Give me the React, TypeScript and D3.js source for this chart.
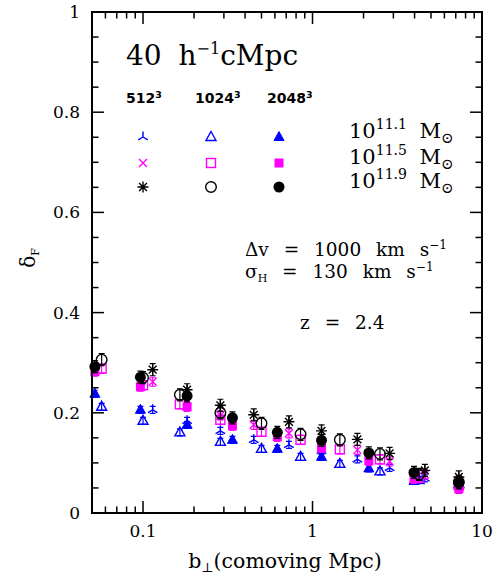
import React from 'react';
import * as d3 from 'd3';

// impact parameter bins (comoving Mpc) for each run
const b2048 = [0.052, 0.0965, 0.182, 0.337, 0.62, 1.13, 2.15, 3.97, 7.3];
const b1024 = [0.057, 0.1, 0.165, 0.286, 0.5, 0.85, 1.45, 2.5, 4.25, 7.3];
const b512 = [0.114, 0.182, 0.286, 0.45, 0.726, 1.13, 1.84, 2.85, 4.6, 7.3];

// delta_F per halo mass
const f2048m119 = [0.292, 0.271, 0.234, 0.19, 0.161, 0.145, 0.12, 0.081, 0.06];
const f2048m115 = [0.282, 0.252, 0.212, 0.174, 0.152, 0.13, 0.104, 0.068, 0.048];
const f2048m111 = [0.238, 0.206, 0.176, 0.146, 0.128, 0.112, 0.089, 0.064, 0.055];

const f1024m119 = [0.306, 0.27, 0.236, 0.2, 0.179, 0.157, 0.146, 0.118, 0.077, 0.062];
const f1024m115 = [0.288, 0.255, 0.217, 0.186, 0.162, 0.146, 0.127, 0.107, 0.07, 0.055];
const f1024m111 = [0.212, 0.184, 0.161, 0.142, 0.128, 0.112, 0.098, 0.083, 0.066, 0.058];

const f512m119 = [0.286, 0.246, 0.215, 0.196, 0.182, 0.164, 0.147, 0.119, 0.085, 0.072];
const f512m115 = [0.262, 0.224, 0.195, 0.176, 0.159, 0.14, 0.126, 0.103, 0.077, 0.065];
const f512m111 = [0.206, 0.184, 0.164, 0.146, 0.136, 0.124, 0.107, 0.09, 0.069, 0.06];

// rough error bar half-heights per mass
const errM111 = 0.007;
const errM115 = 0.009;
const errM119 = 0.012;

const resLabels = ['512', '1024', '2048'];
const massLabels = ['11.1', '11.5', '11.9'];
const yTickLabels = ['0', '0.2', '0.4', '0.6', '0.8', '1'];
const xTickLabels = ['0.1', '1', '10'];

type Kind = 'tripod' | 'cross' | 'star' | 'otri' | 'osq' | 'ocirc' | 'ftri' | 'fsq' | 'fcirc';

const BLUE = '#0000ff';
const MAG = '#ff00ff';
const BLK = '#000000';
const SERIF = '"DejaVu Serif", serif';

const series: { kind: Kind; color: string; b: number[]; f: number[]; err: number }[] = [
  { kind: 'tripod', color: BLUE, b: b512, f: f512m111, err: errM111 },
  { kind: 'otri', color: BLUE, b: b1024, f: f1024m111, err: errM111 },
  { kind: 'ftri', color: BLUE, b: b2048, f: f2048m111, err: errM111 },
  { kind: 'cross', color: MAG, b: b512, f: f512m115, err: errM115 },
  { kind: 'osq', color: MAG, b: b1024, f: f1024m115, err: errM115 },
  { kind: 'fsq', color: MAG, b: b2048, f: f2048m115, err: errM115 },
  { kind: 'star', color: BLK, b: b512, f: f512m119, err: errM119 },
  { kind: 'ocirc', color: BLK, b: b1024, f: f1024m119, err: errM119 },
  { kind: 'fcirc', color: BLK, b: b2048, f: f2048m119, err: errM119 },
];

const legendKinds: Kind[][] = [
  ['tripod', 'otri', 'ftri'],
  ['cross', 'osq', 'fsq'],
  ['star', 'ocirc', 'fcirc'],
];
const legendColors = [BLUE, MAG, BLK];

const Marker = ({ kind, x, y, color }: { kind: Kind; x: number; y: number; color: string }) => {
  const sw = 1.4;
  const t = `translate(${x},${y})`;
  switch (kind) {
    case 'tripod':
      return <path transform={t} d="M0,0V-5.5M0,0L-4.8,2.8M0,0L4.8,2.8" stroke={color} strokeWidth={sw} fill="none" />;
    case 'cross':
      return <path transform={t} d="M-4,-4L4,4M-4,4L4,-4" stroke={color} strokeWidth={sw} fill="none" />;
    case 'star':
      return <path transform={t} d="M-5.5,0H5.5M0,-5.5V5.5M-3.9,-3.9L3.9,3.9M-3.9,3.9L3.9,-3.9" stroke={color} strokeWidth={sw} fill="none" />;
    case 'otri':
      return <path transform={t} d="M0,-5.5L5,3.5H-5Z" stroke={color} strokeWidth={sw} fill="none" />;
    case 'ftri':
      return <path transform={t} d="M0,-5.5L5,3.5H-5Z" stroke={color} strokeWidth={1} fill={color} />;
    case 'osq':
      return <rect transform={t} x={-4.5} y={-4.5} width={9} height={9} stroke={color} strokeWidth={sw} fill="none" />;
    case 'fsq':
      return <rect transform={t} x={-4.5} y={-4.5} width={9} height={9} fill={color} />;
    case 'ocirc':
      return <circle transform={t} r={5.3} stroke={color} strokeWidth={sw} fill="none" />;
    case 'fcirc':
      return <circle transform={t} r={5.5} fill={color} />;
  }
};

const App: React.FC = () => {
  const W = 502;
  const H = 578;
  const x = d3.scaleLog().domain([0.05, 10]).range([92, 482]);
  const y = d3.scaleLinear().domain([0, 1]).range([513, 12]);
  const [x0, x1] = x.range();
  const [y0, y1] = y.range();

  const xMajor = [0.1, 1, 10];
  const xMinor = x.ticks().filter((v) => !xMajor.some((m) => Math.abs(m - v) < 1e-9));
  const yMajor = d3.range(0, 1.0001, 0.2);
  const yMinor = d3.range(0.05, 1, 0.05).filter((v) => Math.abs(v / 0.2 - Math.round(v / 0.2)) > 1e-6);

  const big = 12;
  const small = 6.5;

  const legX = [143, 211, 279];
  const legY = [137, 163, 187];
  const headX = [126, 195, 267];

  return (
    <svg width={W} height={H} style={{ position: 'absolute', left: 0, top: 0, background: '#fff' }}>
      <rect width={W} height={H} fill="#fff" />

      {/* data with error bars */}
      {series.map((s, si) => (
        <g key={si}>
          {s.b.map((bv, i) => {
            const cx = x(bv);
            const cy = y(s.f[i]);
            const ya = y(s.f[i] + s.err);
            const yb = y(s.f[i] - s.err);
            return (
              <g key={i}>
                <path
                  d={`M${cx},${ya}V${yb}M${cx - 3},${ya}H${cx + 3}M${cx - 3},${yb}H${cx + 3}`}
                  stroke={s.color}
                  strokeWidth={1.2}
                  fill="none"
                />
                <Marker kind={s.kind} x={cx} y={cy} color={s.color} />
              </g>
            );
          })}
        </g>
      ))}

      {/* frame and ticks */}
      <g stroke="#000" strokeWidth={1.5}>
        {xMajor.map((v) => (
          <g key={`xm${v}`}>
            <line x1={x(v)} x2={x(v)} y1={y0} y2={y0 - big} />
            <line x1={x(v)} x2={x(v)} y1={y1} y2={y1 + big} />
          </g>
        ))}
        {xMinor.map((v) => (
          <g key={`xn${v}`}>
            <line x1={x(v)} x2={x(v)} y1={y0} y2={y0 - small} />
            <line x1={x(v)} x2={x(v)} y1={y1} y2={y1 + small} />
          </g>
        ))}
        {yMajor.map((v) => (
          <g key={`ym${v}`}>
            <line x1={x0} x2={x0 + big} y1={y(v)} y2={y(v)} />
            <line x1={x1} x2={x1 - big} y1={y(v)} y2={y(v)} />
          </g>
        ))}
        {yMinor.map((v) => (
          <g key={`yn${v}`}>
            <line x1={x0} x2={x0 + small} y1={y(v)} y2={y(v)} />
            <line x1={x1} x2={x1 - small} y1={y(v)} y2={y(v)} />
          </g>
        ))}
      </g>
      <rect x={x0} y={y1} width={x1 - x0} height={y0 - y1} fill="none" stroke="#000" strokeWidth={2} />

      {/* tick labels */}
      <g fontFamily={SERIF} fontSize={17} fill="#000">
        {yTickLabels.map((l, i) => (
          <text key={l} x={80} y={y(i * 0.2) + 6} textAnchor="end">
            {l}
          </text>
        ))}
        {xTickLabels.map((l, i) => (
          <text key={l} x={x(xMajor[i])} y={537} textAnchor="middle">
            {l}
          </text>
        ))}
      </g>

      {/* axis titles */}
      <text x={(x0 + x1) / 2 - 2} y={568} fontFamily={SERIF} fontSize={20.5} textAnchor="middle">
        b<tspan fontSize={13} dy={4}>⊥</tspan>
        <tspan dy={-4}>(comoving Mpc)</tspan>
      </text>
      <text transform="translate(35,258) rotate(-90)" fontFamily={SERIF} fontSize={20} textAnchor="middle">
        δ<tspan fontSize={11} dy={4}>F</tspan>
      </text>

      {/* box label */}
      <text x={126} y={65} fontFamily={SERIF} fontSize={28} wordSpacing={8}>
        40 h<tspan fontSize={16} dy={-11}>−1</tspan>
        <tspan dy={11}>cMpc</tspan>
      </text>

      {/* legend */}
      {resLabels.map((r, i) => (
        <text key={r} x={headX[i]} y={103} fontFamily='"DejaVu Sans", sans-serif' fontWeight="bold" fontSize={14}>
          {r}
          <tspan fontSize={9.5} dy={-5}>3</tspan>
        </text>
      ))}
      {legendKinds.map((row, ri) =>
        row.map((k, ci) => <Marker key={`${ri}-${ci}`} kind={k} x={legX[ci]} y={legY[ri]} color={legendColors[ri]} />)
      )}
      {massLabels.map((m, i) => (
        <text key={m} x={349} y={legY[i] + 1} fontFamily={SERIF} fontSize={21} wordSpacing={6}>
          10<tspan fontSize={14} dy={-9}>{m}</tspan>
          <tspan dy={9}> M</tspan>
          <tspan fontSize={15} dy={5}>⊙</tspan>
        </text>
      ))}

      {/* parameters */}
      <g fontFamily={SERIF} fontSize={18.5} wordSpacing={9}>
        <text x={245} y={256}>
          Δv = 1000 km s<tspan fontSize={12} dy={-7}>−1</tspan>
        </text>
        <text x={245} y={278}>
          σ<tspan fontSize={11} dy={4}>H</tspan>
          <tspan dy={-4}> = 130 km s</tspan>
          <tspan fontSize={12} dy={-7}>−1</tspan>
        </text>
        <text x={300} y={329}>
          z = 2.4
        </text>
      </g>
    </svg>
  );
};

export default App;
